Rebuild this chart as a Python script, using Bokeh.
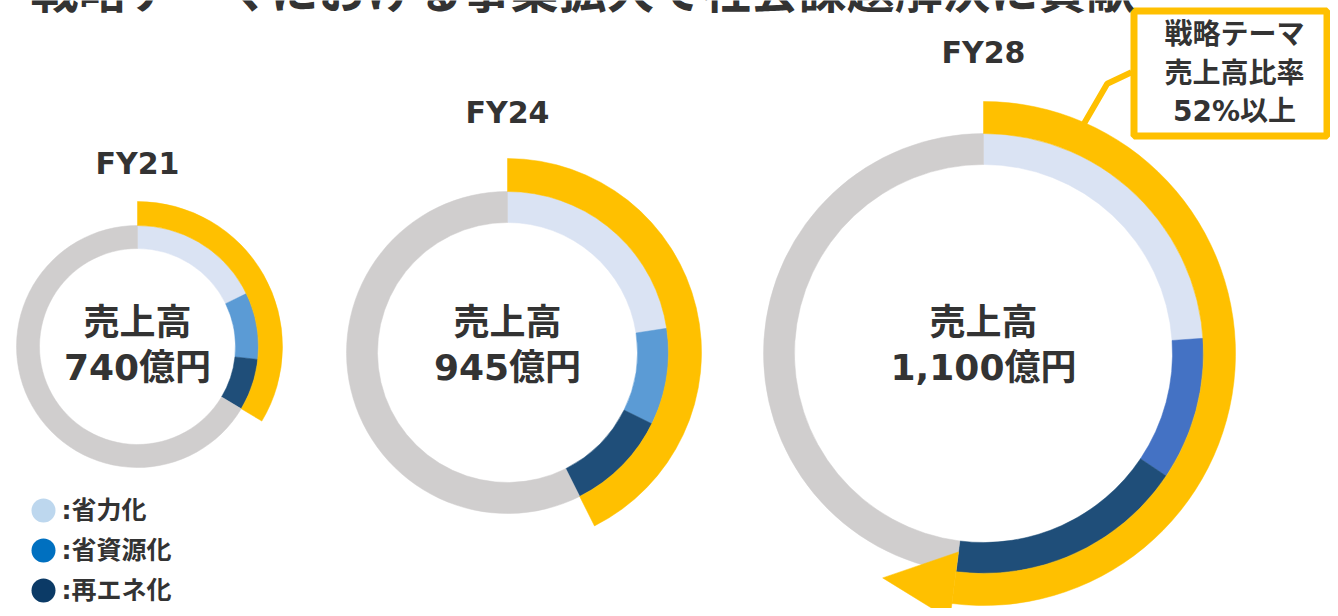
import math
from bokeh.plotting import figure
from bokeh.models import Range1d, ColumnDataSource
from bokeh.core.properties import value
from bokeh.embed import file_html
from bokeh.resources import INLINE

# ---------------- data ----------------
years = ["FY21", "FY24", "FY28"]
sales_labels = ["740億円", "945億円", "1,100億円"]
categories = ["省力化", "省資源化", "再エネ化"]
labor_saving = [17.8, 22.6, 23.9]      # 省力化 share of sales (%)
resource_saving = [8.9, 9.7, 10.5]     # 省資源化 share (%)
renewable = [6.9, 10.3, 17.6]          # 再エネ化 share (%)
center_label = "売上高"
callout_lines = ["戦略テーマ", "売上高比率", "52%以上"]
title_text = "戦略テーマにおける事業拡大で社会課題解決に貢献"

# ---------------- layout / style ----------------
W, H = 1330, 608
def Y(y):  # picture pixel row -> data y
    return H - y

centers = [(137, 346), (507, 352), (983, 353)]
r_inner = [98, 130, 189]
r_outer = [121, 161, 220]
r_yellow = [145, 194, 252]
label_y = [163, 112, 52]
center_text_y = [322, 367]

GRAY = "#D0CECE"
YELLOW = "#FFC000"
LIGHT = "#DAE3F3"
MID = ["#5B9BD5", "#5B9BD5", "#4472C4"]
DARK = "#1F4E79"
TXT = "#333333"
legend_colors = ["#BDD7EE", "#0070C0", "#0B3A66"]
FONT = value("DejaVu Sans, Noto Sans CJK JP")

p = figure(width=W, height=H, x_range=Range1d(0, W), y_range=Range1d(0, H),
           output_backend="svg", toolbar_location=None, x_axis_type=None, y_axis_type=None,
           min_border=0, background_fill_color="white", border_fill_color="white")
p.outline_line_color = None
p.grid.visible = False

def ang(pct):
    return math.pi / 2 - 2 * math.pi * pct / 100.0

# ---------------- donuts ----------------
for i in range(len(years)):
    cx, cy = centers[i]
    segs = [labor_saving[i], resource_saving[i], renewable[i]]
    cols = [LIGHT, MID[i], DARK]
    total = sum(segs)
    starts, ends, colors = [], [], []
    c = 0.0
    for v, col in zip(segs, cols):
        starts.append(ang(c)); ends.append(ang(c + v)); colors.append(col)
        c += v
    starts.append(ang(total)); ends.append(ang(100)); colors.append(GRAY)
    src = ColumnDataSource(dict(start=starts, end=ends, color=colors))
    p.annular_wedge(x=cx, y=Y(cy), inner_radius=r_inner[i], outer_radius=r_outer[i],
                    start_angle="start", end_angle="end", direction="clock",
                    fill_color="color", line_color="color", line_width=0.5, source=src)
    # strategic theme share (outer yellow arc)
    p.annular_wedge(x=cx, y=Y(cy), inner_radius=r_outer[i], outer_radius=r_yellow[i],
                    start_angle=ang(0), end_angle=ang(total), direction="clock",
                    fill_color=YELLOW, line_color=YELLOW, line_width=0.5)
    # labels
    p.text(x=[cx], y=[Y(label_y[i])], text=[years[i]], text_font=FONT, text_font_style="bold",
           text_font_size="30px", text_color=TXT, text_align="center", text_baseline="middle")
    p.text(x=[cx, cx], y=[Y(v) for v in center_text_y], text=[center_label, sales_labels[i]],
           text_font=FONT, text_font_style="bold", text_font_size="36px", text_color=TXT,
           text_align="center", text_baseline="middle")

# arrow head at the end of FY28 yellow arc
cx, cy = centers[2]
end_pct = labor_saving[2] + resource_saving[2] + renewable[2]
a_end = 2 * math.pi * end_pct / 100.0
def polar(r, a):
    return cx + r * math.sin(a), Y(cy) + r * math.cos(a)
pts = [polar(200, a_end), polar(268, a_end), polar(246, a_end + math.radians(17))]
p.patch([q[0] for q in pts], [q[1] for q in pts], fill_color=YELLOW, line_color=YELLOW, line_width=0.5)

# callout box and connector
p.line(x=[1131, 1106.7, 1083], y=[Y(71.7), Y(83.3), Y(124)], line_color=YELLOW, line_width=6)
p.quad(left=[1133.5], right=[1326.5], top=[Y(10.5)], bottom=[Y(135.5)],
       fill_color="white", line_color=YELLOW, line_width=7)
p.text(x=[1234] * 3, y=[Y(34), Y(73), Y(111)], text=callout_lines, text_font=FONT,
       text_font_style="bold", text_font_size="28px", text_color=TXT,
       text_align="center", text_baseline="middle")

# legend
leg_y = [510, 550, 590]
p.scatter(x=[43] * 3, y=[Y(v) for v in leg_y], size=24, marker="circle",
          fill_color=legend_colors, line_color=None)
p.text(x=[61] * 3, y=[Y(v) for v in leg_y], text=[":" + c for c in categories], text_font=FONT,
       text_font_style="bold", text_font_size="25px", text_color=TXT,
       text_align="left", text_baseline="middle")

# title, cut off at the very top as in the reference
p.text(x=[30], y=[Y(18)], text=[title_text], text_font=FONT, text_font_style="bold",
       text_font_size="48px", text_color=TXT, text_align="left", text_baseline="bottom")

open("out.html", "w").write(file_html(p, INLINE))
